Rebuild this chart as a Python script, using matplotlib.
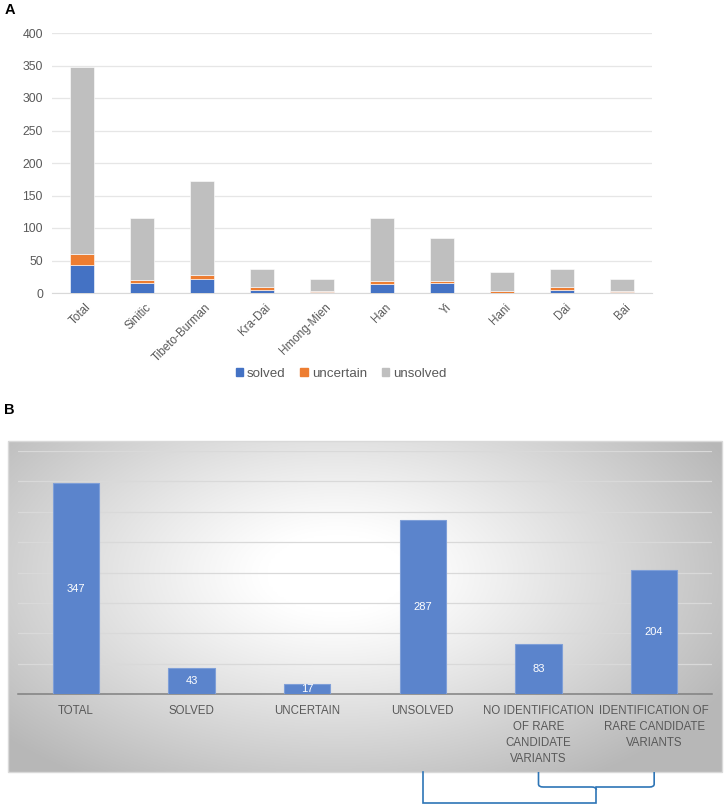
import numpy as np
import matplotlib
matplotlib.use("Agg")
import matplotlib.pyplot as plt
import matplotlib.transforms as mtransforms
from matplotlib.patches import Rectangle, Patch
from matplotlib.path import Path
from matplotlib.patches import PathPatch

plt.rcParams['font.family'] = ['Liberation Sans', 'DejaVu Sans']

# panel A data
groups = ["Total", "Sinitic", "Tibeto-Burman", "Kra-Dai", "Hmong-Mien",
          "Han", "Yi", "Hani", "Dai", "Bai"]
solved = [43, 15, 21, 5, 2, 14, 16, 0, 5, 2]
uncertain = [17, 5, 7, 4, 1, 5, 2, 3, 4, 1]
unsolved = [287, 96, 144, 28, 19, 96, 67, 29, 28, 19]

# panel B data
b_labels = ["TOTAL", "SOLVED", "UNCERTAIN", "UNSOLVED",
            "NO IDENTIFICATION\nOF RARE\nCANDIDATE\nVARIANTS",
            "IDENTIFICATION OF\nRARE CANDIDATE\nVARIANTS"]
b_values = [347, 43, 17, 287, 83, 204]

grey_txt = "#595959"
W, H = 724, 806
fig = plt.figure(figsize=(W / 100, H / 100), dpi=100)

# ---------- panel A ----------
axA = fig.add_axes([52 / W, 1 - 293 / H, 600 / W, 260 / H])
x = np.arange(len(groups))
s = np.array(solved)
u = np.array(uncertain)
un = np.array(unsolved)
axA.bar(x, s, 0.4, color="#4472c4", edgecolor="white", linewidth=0.4, zorder=3)
axA.bar(x, u, 0.4, bottom=s, color="#ed7d31", edgecolor="white", linewidth=0.4, zorder=3)
axA.bar(x, un, 0.4, bottom=s + u, color="#bfbfbf", edgecolor="white", linewidth=0.4, zorder=3)
axA.set_xlim(-0.5, len(groups) - 0.5)
axA.set_ylim(0, 400)
axA.set_yticks(range(0, 401, 50))
axA.yaxis.grid(True, color="#e6e6e6", linewidth=0.9, zorder=0)
axA.set_axisbelow(True)
for sp in ["left", "right", "top"]:
    axA.spines[sp].set_visible(False)
axA.spines["bottom"].set_color("#d9d9d9")
axA.tick_params(length=0, colors=grey_txt, labelsize=8.8)
axA.tick_params(axis="y", pad=6.5)
axA.set_xticks(x)
axA.set_xticklabels(groups, rotation=45, ha="right", va="top",
                    rotation_mode="anchor", fontsize=8.4)
axA.tick_params(axis="x", pad=6)
for lab in axA.get_xticklabels():
    lab.set_transform(lab.get_transform() + mtransforms.ScaledTranslation(3 / 100, 0, fig.dpi_scale_trans))

handles = [Patch(color="#4472c4", label="solved"),
           Patch(color="#ed7d31", label="uncertain"),
           Patch(color="#bfbfbf", label="unsolved")]
fig.legend(handles=handles, loc="center", bbox_to_anchor=(341 / W, 1 - 374 / H),
           ncol=3, frameon=False, fontsize=9.6, handlelength=0.55, handleheight=0.55,
           handletextpad=0.3, columnspacing=1.1, labelcolor=grey_txt)

fig.text(5 / W, 1 - 3 / H, "A", fontsize=10.5, fontweight="bold", va="top", ha="left")
fig.text(4 / W, 1 - 403 / H, "B", fontsize=10.5, fontweight="bold", va="top", ha="left")

# ---------- panel B ----------
bx0, bx1, by0, by1 = 8, 722, 441, 772
bg = fig.add_axes([bx0 / W, 1 - by1 / H, (bx1 - bx0) / W, (by1 - by0) / H], zorder=0)
gx, gy = np.meshgrid(np.linspace(0, 1, 400), np.linspace(0, 1, 200))
r = np.sqrt(((gx - 0.46) / 0.62) ** 2 + ((gy - 0.40) / 0.75) ** 2)
val = 1 - 0.28 * np.clip((r - 0.16) / 0.84, 0, 1) ** 1.1
img = np.dstack([val, val, val])
bg.imshow(img, aspect="auto", extent=[0, 1, 0, 1], origin="upper")
bg.set_xlim(0, 1)
bg.set_ylim(0, 1)
bg.axis("off")
bg.add_patch(Rectangle((0, 0), 1, 1, fill=False, edgecolor="#d9d9d9", linewidth=1,
                       transform=bg.transAxes, clip_on=False))

axB = fig.add_axes([18 / W, 1 - 694 / H, 694 / W, 243 / H], zorder=1)
axB.set_facecolor("none")
xb = np.arange(len(b_values))
bars = axB.bar(xb, b_values, 0.4, color="#5b84cc", edgecolor="#7f9fd8", linewidth=0.8, zorder=3)
axB.set_xlim(-0.5, len(b_values) - 0.5)
axB.set_ylim(0, 400)
axB.set_yticks(range(50, 401, 50))
axB.yaxis.grid(True, color="#d9d9d9", linewidth=0.9, zorder=0)
axB.set_axisbelow(True)
for sp in ["left", "right", "top"]:
    axB.spines[sp].set_visible(False)
axB.spines["bottom"].set_color("#808080")
axB.spines["bottom"].set_linewidth(1.1)
axB.tick_params(length=0, labelleft=False)
axB.set_xticks(xb)
axB.set_xticklabels(b_labels, fontsize=8.3, color=grey_txt, linespacing=1.45)
axB.tick_params(axis="x", pad=8)
for b, v in zip(bars, b_values):
    axB.text(b.get_x() + b.get_width() / 2, v / 2, str(v), ha="center", va="center",
             color="white", fontsize=8, zorder=4)

# bracket linking unsolved to its two subgroups
tr = mtransforms.blended_transform_factory(axB.transData, axB.transAxes)
y_top = (694 - 772) / 243
y_mid = (694 - 787) / 243
y_bot = (694 - 803) / 243
blue = "#2e75b6"
axB.plot([3, 3, 4.5, 4.5], [y_top, y_bot, y_bot, y_mid], color=blue, lw=1.2,
         transform=tr, clip_on=False, solid_joinstyle="miter")
c = 0.04
verts = [(4, y_top), (4, y_mid + 0.012), (4, y_mid), (4 + c, y_mid),
         (4.5 - c, y_mid), (4.5, y_mid), (4.5, y_mid - 0.012),
         (4.5, y_mid), (4.5 + c, y_mid), (5 - c, y_mid), (5, y_mid), (5, y_mid + 0.012), (5, y_top)]
codes = [Path.MOVETO, Path.LINETO, Path.CURVE3, Path.CURVE3,
         Path.LINETO, Path.CURVE3, Path.CURVE3,
         Path.MOVETO, Path.CURVE3, Path.LINETO, Path.CURVE3, Path.CURVE3, Path.LINETO]
axB.add_patch(PathPatch(Path(verts, codes), fill=False, edgecolor=blue, lw=1.2,
                        transform=tr, clip_on=False))

fig.savefig("out.png", dpi=100)
